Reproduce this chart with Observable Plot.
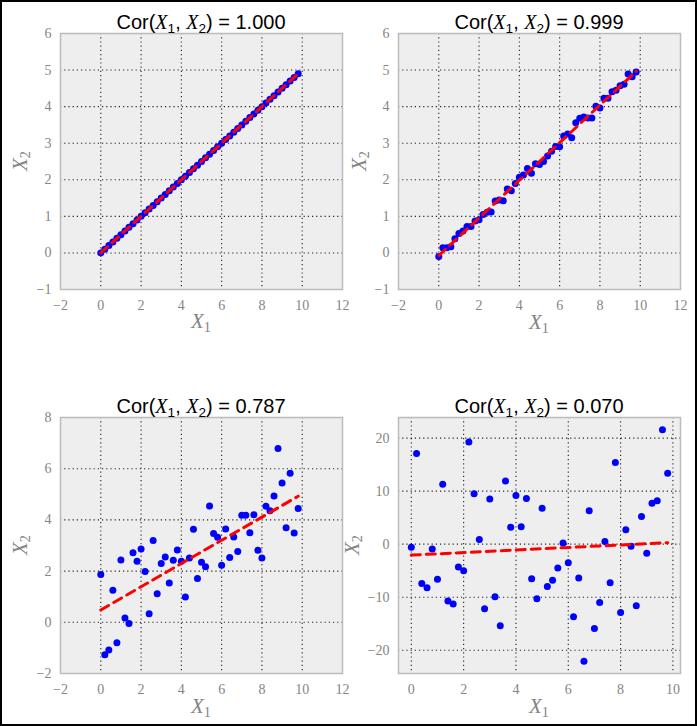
<!DOCTYPE html>
<html>
<head>
<meta charset="utf-8">
<script src="https://cdn.jsdelivr.net/npm/d3@7"></script>
<script src="https://cdn.jsdelivr.net/npm/@observablehq/plot@0.6"></script>
<style>
  html, body { margin: 0; padding: 0; background: #fff; }
  #wrap { position: relative; width: 697px; height: 726px; overflow: hidden; background: #fff; }
  #border { position: absolute; left: 0; top: 0; width: 697px; height: 726px; box-sizing: border-box; border: 2px solid #000; pointer-events: none; }
  .panel-svg { position: absolute; }
  .title { position: absolute; width: 282px; text-align: center; font-family: "Liberation Sans", Arial, sans-serif; font-size: 20px; line-height: 20px; color: #000; white-space: nowrap; }
  .title i, .lab i { font-family: "Liberation Serif", serif; font-style: italic; }
  sub { font-size: 0.68em; vertical-align: -0.28em; line-height: 0; }
  .lab { position: absolute; font-family: "Liberation Serif", serif; font-size: 21px; line-height: 21px; color: #858585; white-space: nowrap; }
  .xlab { width: 282px; text-align: center; }
  .ylab { transform: translate(-50%, -50%) rotate(-90deg); }
</style>
</head>
<body>
<div id="wrap"><div id="border"></div></div>
<script>
// ---- data ----
const X1 = [0, 0.2, 0.4, 0.6, 0.8, 1.0, 1.2, 1.4, 1.6, 1.8,
            2.0, 2.2, 2.4, 2.6, 2.8, 3.0, 3.2, 3.4, 3.6, 3.8,
            4.0, 4.2, 4.4, 4.6, 4.8, 5.0, 5.2, 5.4, 5.6, 5.8,
            6.0, 6.2, 6.4, 6.6, 6.8, 7.0, 7.2, 7.4, 7.6, 7.8,
            8.0, 8.2, 8.4, 8.6, 8.8, 9.0, 9.2, 9.4, 9.6, 9.8];

const Y_PERFECT = [0, 0.1, 0.2, 0.3, 0.4, 0.5, 0.6, 0.7, 0.8, 0.9,
                   1.0, 1.1, 1.2, 1.3, 1.4, 1.5, 1.6, 1.7, 1.8, 1.9,
                   2.0, 2.1, 2.2, 2.3, 2.4, 2.5, 2.6, 2.7, 2.8, 2.9,
                   3.0, 3.1, 3.2, 3.3, 3.4, 3.5, 3.6, 3.7, 3.8, 3.9,
                   4.0, 4.1, 4.2, 4.3, 4.4, 4.5, 4.6, 4.7, 4.8, 4.9];

const Y_TIGHT = [-0.10, 0.14, 0.14, 0.17, 0.39, 0.53, 0.60, 0.72, 0.72, 0.87,
                 0.91, 1.05, 1.11, 1.12, 1.42, 1.45, 1.43, 1.75, 1.70, 1.90,
                 2.07, 2.13, 2.31, 2.18, 2.44, 2.42, 2.50, 2.65, 2.78, 2.91,
                 2.90, 3.20, 3.25, 3.15, 3.56, 3.68, 3.72, 3.69, 3.69, 4.01,
                 3.96, 4.23, 4.23, 4.41, 4.45, 4.57, 4.61, 4.89, 4.82, 4.95];

const Y_MODERATE = [1.87, -1.27, -1.08, 1.25, -0.80, 2.43, 0.17, -0.05, 2.72, 2.38,
                    2.86, 1.98, 0.33, 3.20, 1.12, 2.30, 2.55, 1.54, 2.42, 2.82,
                    2.38, 0.99, 2.51, 3.63, 1.71, 2.35, 2.17, 4.54, 3.47, 3.32,
                    2.23, 3.64, 2.53, 3.33, 2.77, 4.18, 4.18, 3.50, 4.20, 2.81,
                    2.51, 4.53, 4.36, 4.93, 6.79, 5.44, 3.69, 5.82, 3.49, 4.45];

const Y_NOISY = [-0.6, 17.1, -7.4, -8.2, -0.9, -6.6, 11.3, -10.7, -11.3, -4.3,
                 -5.0, 19.3, 9.5, 0.9, -12.2, 8.5, -9.9, -15.4, 11.9, 3.2,
                 9.2, 3.3, 8.6, -6.5, -10.3, 6.8, -8.0, -6.8, -4.5, 0.2,
                 -3.5, -13.7, -6.4, -22.1, 6.3, -15.9, -11.0, 0.5, -7.3, 15.4,
                 -12.9, 2.7, -0.4, -11.6, 5.2, -1.7, 7.7, 8.2, 21.6, 13.4];

const COR_LABELS = ["1.000", "0.999", "0.787", "0.070"];

const X_TICKS_WIDE = [-2, 0, 2, 4, 6, 8, 10, 12];
const X_TICKS_NARROW = [0, 2, 4, 6, 8, 10];
const Y_TICKS_LINE = [-1, 0, 1, 2, 3, 4, 5, 6];
const Y_TICKS_MOD = [-2, 0, 2, 4, 6, 8];
const Y_TICKS_NOISY = [-20, -10, 0, 10, 20];

// ---- layout ----
const PW = 282, PH = 256;
const ML = 50, MR = 12, MT = 10, MB = 30;

const panels = [
  {ys: Y_PERFECT, label: COR_LABELS[0], left: 60, top: 33,
   xDomain: [-2, 12], yDomain: [-1, 6], xTicks: X_TICKS_WIDE, yTicks: Y_TICKS_LINE,
   titleTop: 12, xlabTop: 311, ylabX: 20},
  {ys: Y_TIGHT, label: COR_LABELS[1], left: 398, top: 33,
   xDomain: [-2, 12], yDomain: [-1, 6], xTicks: X_TICKS_WIDE, yTicks: Y_TICKS_LINE,
   titleTop: 12, xlabTop: 312, ylabX: 359},
  {ys: Y_MODERATE, label: COR_LABELS[2], left: 60, top: 417,
   xDomain: [-2, 12], yDomain: [-2, 8], xTicks: X_TICKS_WIDE, yTicks: Y_TICKS_MOD,
   titleTop: 396, xlabTop: 696, ylabX: 20},
  {ys: Y_NOISY, label: COR_LABELS[3], left: 398, top: 417,
   xDomain: [-0.49, 10.29], yDomain: [-24.4, 23.9], xTicks: X_TICKS_NARROW, yTicks: Y_TICKS_NOISY,
   titleTop: 396, xlabTop: 696, ylabX: 352}
];

const wrap = document.getElementById("wrap");
const border = document.getElementById("border");

for (const p of panels) {
  const data = X1.map((x, i) => ({x, y: p.ys[i]}));
  const inner = (t, d) => t.filter(v => v > d[0] && v < d[1]);
  const svg = Plot.plot({
    width: PW + ML + MR,
    height: PH + MT + MB,
    marginLeft: ML, marginRight: MR, marginTop: MT, marginBottom: MB,
    style: {background: "none", fontFamily: "'Liberation Serif', serif", fontSize: "14px", color: "#858585", overflow: "visible"},
    x: {domain: p.xDomain},
    y: {domain: p.yDomain},
    marks: [
      Plot.frame({fill: "#eeeeee", stroke: null}),
      Plot.gridX(inner(p.xTicks, p.xDomain), {stroke: "#000", strokeOpacity: 0.85, strokeWidth: 1.1, strokeDasharray: "1.2,3"}),
      Plot.gridY(inner(p.yTicks, p.yDomain), {stroke: "#000", strokeOpacity: 0.85, strokeWidth: 1.1, strokeDasharray: "1.2,3"}),
      Plot.axisX(p.xTicks, {tickSize: 0, tickPadding: 11, label: null}),
      Plot.axisY(p.yTicks, {tickSize: 0, tickPadding: 9, label: null}),
      Plot.dot(data, {x: "x", y: "y", r: 3.5, fill: "#0000ff", stroke: null}),
      Plot.linearRegressionY(data, {x: "x", y: "y", ci: 0, stroke: "#ff0000", strokeWidth: 3, strokeDasharray: "9,6"}),
      Plot.frame({stroke: "#bcbcbc", strokeWidth: 1.5, fill: "none"})
    ]
  });
  svg.classList.add("panel-svg");
  svg.style.left = (p.left - ML) + "px";
  svg.style.top = (p.top - MT) + "px";
  wrap.insertBefore(svg, border);

  const title = document.createElement("div");
  title.className = "title";
  title.style.left = p.left + "px";
  title.style.top = p.titleTop + "px";
  title.innerHTML = `Cor(<i>X</i><sub>1</sub>, <i>X</i><sub>2</sub>) = ${p.label}`;
  wrap.insertBefore(title, border);

  const xl = document.createElement("div");
  xl.className = "lab xlab";
  xl.style.left = p.left + "px";
  xl.style.top = p.xlabTop + "px";
  xl.innerHTML = `<i>X</i><sub>1</sub>`;
  wrap.insertBefore(xl, border);

  const yl = document.createElement("div");
  yl.className = "lab ylab";
  yl.style.left = p.ylabX + "px";
  yl.style.top = (p.top + PH / 2) + "px";
  yl.innerHTML = `<i>X</i><sub>2</sub>`;
  wrap.insertBefore(yl, border);
}
</script>
</body>
</html>
